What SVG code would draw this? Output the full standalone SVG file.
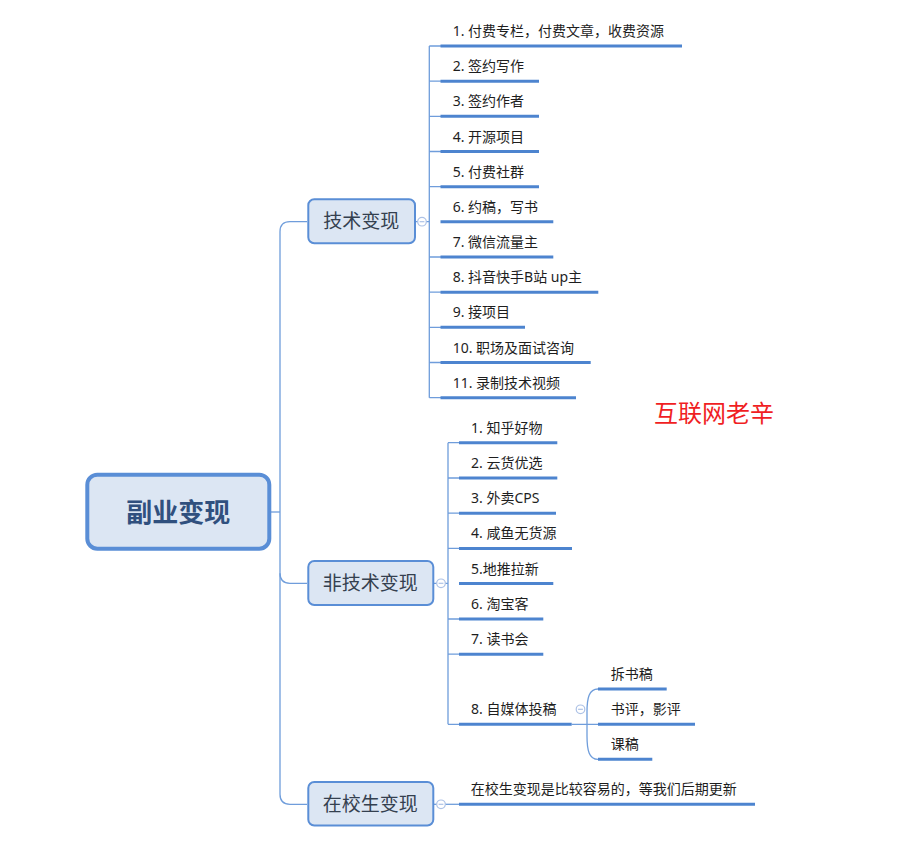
<svg xmlns="http://www.w3.org/2000/svg" width="909" height="848" viewBox="0 0 909 848">
<style>
.thin{fill:none;stroke:#6F9DDB;stroke-width:1.3}
.ul{fill:none;stroke:#4D84CF;stroke-width:3}
.box{fill:#DCE6F3;stroke:#5A8ED6;stroke-width:2}
.main{fill:#DCE6F3;stroke:#5A8ED6;stroke-width:4}
.bt{font-family:"Noto Sans CJK SC","Noto Sans",sans-serif;font-size:19px;fill:#34404F;text-anchor:middle}
.mt{font-family:"Noto Sans CJK SC","Noto Sans",sans-serif;font-size:26px;font-weight:bold;fill:#30507E;text-anchor:middle}
.it{font-family:"Noto Sans","Noto Sans CJK SC",sans-serif;font-size:14px;fill:#1E1E1E}
.col circle{fill:#fff;stroke:#ADC2E6;stroke-width:1.2}
.col line{stroke:#ADC2E6;stroke-width:1.2}
.wm{font-family:"Noto Sans CJK SC","Noto Sans",sans-serif;font-size:24px;fill:#F01E23}
</style>
<rect width="909" height="848" fill="#fff"/>
<g id="connectors">
  <path class="thin" d="M271,512 H280"/>
  <path class="thin" d="M307,221.7 H290 Q280,221.7 280,231.7 V794.3 Q280,804.3 290,804.3 H307"/>
  <path class="thin" d="M280,573.3 Q280,583.3 290,583.3 H307"/>
  <!-- tech bracket -->
  <path class="thin" d="M415,221.7 H429.3 M429.3,46 V397.7 M429.3,46 H441 M429.3,81.2 H441 M429.3,116.3 H441 M429.3,151.5 H441 M429.3,186.7 H441 M429.3,257 H441 M429.3,292.2 H441 M429.3,327.3 H441 M429.3,362.5 H441 M429.3,397.7 H441"/>
  <!-- non-tech bracket -->
  <path class="thin" d="M433.3,583.3 H448 M448,442.7 V724.3 M448,442.7 H459 M448,478 H459 M448,513.2 H459 M448,548.4 H459 M448,619 H459 M448,654.2 H459 M448,724.3 H459"/>
  <!-- item 8 sub branch -->
  <path class="thin" d="M571.7,724.3 H598 M598,689 C589,689 587,698 587,712 V736 C587,750 589,759.3 598,759.3"/>
  <!-- campus -->
  <path class="thin" d="M433.3,804.3 H459"/>
</g>
<g id="collapse" class="col">
  <circle cx="422" cy="221.7" r="4.3"/><line x1="419.6" y1="221.7" x2="424.4" y2="221.7"/>
  <circle cx="441" cy="583.3" r="4.3"/><line x1="438.6" y1="583.3" x2="443.4" y2="583.3"/>
  <circle cx="441" cy="804.3" r="4.3"/><line x1="438.6" y1="804.3" x2="443.4" y2="804.3"/>
  <circle cx="580.5" cy="709.3" r="4.3"/><line x1="578.1" y1="709.3" x2="582.9" y2="709.3"/>
</g>
<g id="root">
  <rect class="main" x="87.3" y="474.7" width="182" height="74" rx="10"/>
  <text class="mt" x="178.3" y="522">副业变现</text>
</g>
<g id="tech">
  <rect class="box" x="308.3" y="199.3" width="106.7" height="44" rx="6"/>
  <text class="bt" x="361.2" y="228">技术变现</text>
</g>
<g id="nontech">
  <rect class="box" x="308.3" y="561" width="125" height="44" rx="6"/>
  <text class="bt" x="370.3" y="590">非技术变现</text>
</g>
<g id="campus">
  <rect class="box" x="308.3" y="782" width="125" height="43.5" rx="6"/>
  <text class="bt" x="370.3" y="811">在校生变现</text>
</g>
<g id="tech-items">
  <g id="t1"><path class="ul" d="M440.5,46 H682"/><text class="it" x="452.7" y="36">1. 付费专栏，付费文章，收费资源</text></g>
  <g id="t2"><path class="ul" d="M440.5,81.2 H539"/><text class="it" x="452.7" y="71.2">2. 签约写作</text></g>
  <g id="t3"><path class="ul" d="M440.5,116.3 H539"/><text class="it" x="452.7" y="106.3">3. 签约作者</text></g>
  <g id="t4"><path class="ul" d="M440.5,151.5 H539"/><text class="it" x="452.7" y="141.5">4. 开源项目</text></g>
  <g id="t5"><path class="ul" d="M440.5,186.7 H539"/><text class="it" x="452.7" y="176.7">5. 付费社群</text></g>
  <g id="t6"><path class="ul" d="M440.5,221.8 H553.3"/><text class="it" x="452.7" y="211.8">6. 约稿，写书</text></g>
  <g id="t7"><path class="ul" d="M440.5,257 H553.3"/><text class="it" x="452.7" y="247">7. 微信流量主</text></g>
  <g id="t8"><path class="ul" d="M440.5,292.2 H598.3"/><text class="it" x="452.7" y="282.2">8. 抖音快手B站 up主</text></g>
  <g id="t9"><path class="ul" d="M440.5,327.3 H525"/><text class="it" x="452.7" y="317.3">9. 接项目</text></g>
  <g id="t10"><path class="ul" d="M440.5,362.5 H590.7"/><text class="it" x="452.7" y="352.5">10. 职场及面试咨询</text></g>
  <g id="t11"><path class="ul" d="M440.5,397.7 H576"/><text class="it" x="452.7" y="387.7">11. 录制技术视频</text></g>
</g>
<g id="nontech-items">
  <g id="n1"><path class="ul" d="M459,442.7 H557.3"/><text class="it" x="471" y="432.7">1. 知乎好物</text></g>
  <g id="n2"><path class="ul" d="M459,478 H557.3"/><text class="it" x="471" y="468">2. 云货优选</text></g>
  <g id="n3"><path class="ul" d="M459,513.2 H556"/><text class="it" x="471" y="503.2">3. 外卖CPS</text></g>
  <g id="n4"><path class="ul" d="M459,548.4 H572"/><text class="it" x="471" y="538.4">4. 咸鱼无货源</text></g>
  <g id="n5"><path class="ul" d="M459,583.6 H553.3"/><text class="it" x="471" y="573.6">5.地推拉新</text></g>
  <g id="n6"><path class="ul" d="M459,619 H543.3"/><text class="it" x="471" y="609">6. 淘宝客</text></g>
  <g id="n7"><path class="ul" d="M459,654.2 H543.3"/><text class="it" x="471" y="644.2">7. 读书会</text></g>
  <g id="n8"><path class="ul" d="M459,724.3 H571.7"/><text class="it" x="471" y="714.3">8. 自媒体投稿</text></g>
</g>
<g id="media-items">
  <g id="m1"><path class="ul" d="M598,689 H666.7"/><text class="it" x="610.7" y="679">拆书稿</text></g>
  <g id="m2"><path class="ul" d="M598,724.3 H695"/><text class="it" x="610.7" y="714.3">书评，影评</text></g>
  <g id="m3"><path class="ul" d="M598,759.3 H652.3"/><text class="it" x="610.7" y="749.3">课稿</text></g>
</g>
<g id="campus-item">
  <path class="ul" d="M459,804.3 H755"/><text class="it" x="470.7" y="794.3">在校生变现是比较容易的，等我们后期更新</text>
</g>
<text class="wm" x="654" y="422">互联网老辛</text>
</svg>
